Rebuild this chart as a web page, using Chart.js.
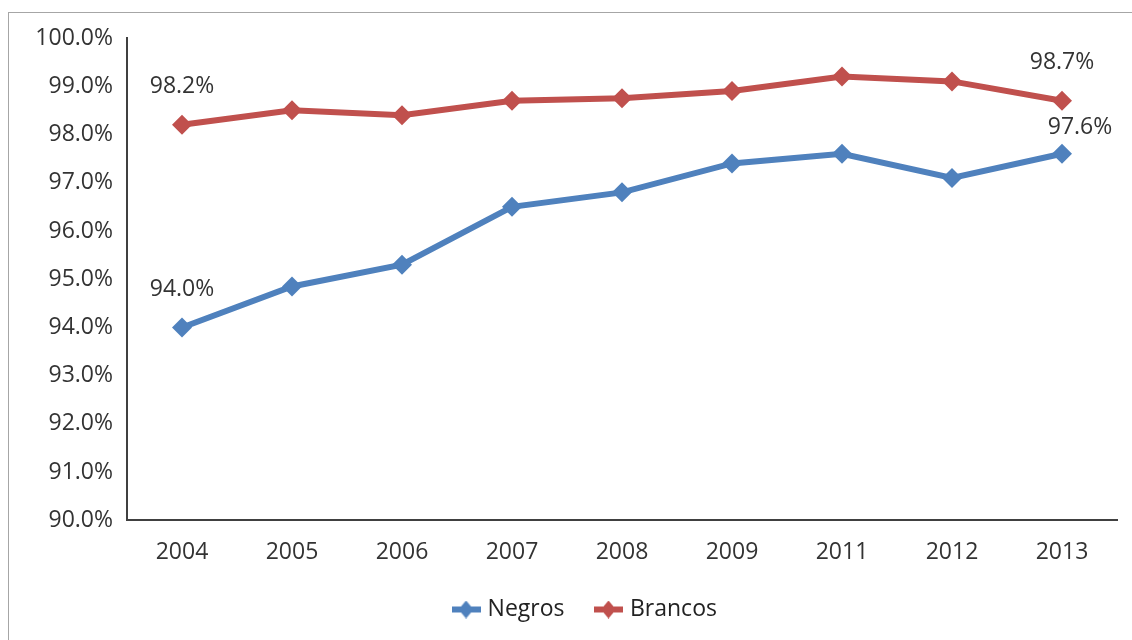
<!DOCTYPE html>
<html>
<head>
<meta charset="utf-8">
<script src="https://cdn.jsdelivr.net/npm/chart.js@4"></script>
<style>
  html, body { margin: 0; padding: 0; background: #fff; }
  #frame {
    position: absolute; left: 8px; top: 12px; width: 1200px; height: 700px;
    border-left: 1px solid #a6a6a6; border-top: 1px solid #a6a6a6;
  }
  #wrap { position: absolute; left: 0; top: 0; width: 1132px; height: 640px; }
</style>
</head>
<body>
<div id="frame"></div>
<div id="wrap"><canvas id="chart"></canvas></div>
<script>
// ── Data ─────────────────────────────────────────────────────
const YEARS   = ['2004', '2005', '2006', '2007', '2008', '2009', '2011', '2012', '2013'];
const NEGROS  = [94.0, 94.85, 95.3, 96.5, 96.8, 97.4, 97.6, 97.1, 97.6];
const BRANCOS = [98.2, 98.5, 98.4, 98.7, 98.75, 98.9, 99.2, 99.1, 98.7];

const BLUE = '#4f81bd';
const RED  = '#c0504d';
const FONT = "'Open Sans', sans-serif";

// Legend marker: short line with a diamond on it
function legendMarker(color) {
  const c = document.createElement('canvas');
  c.width = 29; c.height = 18;
  const g = c.getContext('2d');
  g.fillStyle = color;
  g.fillRect(0, 6, 29, 6);
  g.beginPath();
  g.moveTo(14.5, 0); g.lineTo(22, 9); g.lineTo(14.5, 18); g.lineTo(7, 9);
  g.closePath(); g.fill();
  return c;
}

// ── Value labels on selected points ─────────────────────────
const pointLabels = {
  id: 'pointLabels',
  afterDatasetsDraw(chart, args, opts) {
    const ctx = chart.ctx;
    ctx.save();
    ctx.font = `23px ${FONT}`;
    ctx.fillStyle = '#333';
    ctx.textAlign = 'center';
    ctx.textBaseline = 'middle';
    opts.items.forEach(it => {
      const pt = chart.getDatasetMeta(it.ds).data[it.idx];
      const v  = chart.data.datasets[it.ds].data[it.idx];
      ctx.fillText(v.toFixed(1) + '%', pt.x + (it.dx || 0), pt.y + it.dy);
    });
    ctx.restore();
  }
};

// Legend sits a bit right of the canvas centre, as in the original
const legendShift = {
  id: 'legendShift',
  afterLayout(chart) {
    chart.legend.left  += 28;
    chart.legend.right += 28;
  }
};

const ctx = document.getElementById('chart').getContext('2d');
new Chart(ctx, {
  type: 'line',
  data: {
    labels: YEARS,
    datasets: [
      {
        label: 'Negros', data: NEGROS,
        borderColor: BLUE, backgroundColor: BLUE,
        borderWidth: 6, pointStyle: 'rectRot', pointRadius: 10,
        pointHoverRadius: 10, pointBorderWidth: 0, tension: 0
      },
      {
        label: 'Brancos', data: BRANCOS,
        borderColor: RED, backgroundColor: RED,
        borderWidth: 6, pointStyle: 'rectRot', pointRadius: 10,
        pointHoverRadius: 10, pointBorderWidth: 0, tension: 0
      }
    ]
  },
  options: {
    responsive: true,
    maintainAspectRatio: false,
    animation: false,
    layout: { padding: { top: 38, right: 15, bottom: 9, left: 0 } },
    plugins: {
      legend: {
        position: 'bottom',
        labels: {
          usePointStyle: true,
          pointStyleWidth: 20,
          padding: 34,
          color: '#222',
          font: { family: FONT, size: 23 },
          generateLabels: chart => chart.data.datasets.map((ds, i) => ({
            text: ds.label,
            pointStyle: legendMarker(ds.borderColor),
            fillStyle: ds.borderColor,
            strokeStyle: ds.borderColor,
            lineWidth: 0,
            datasetIndex: i,
            fontColor: '#222'
          }))
        }
      },
      tooltip: { enabled: false },
      pointLabels: {
        items: [
          { ds: 1, idx: 0, dy: -38 },
          { ds: 1, idx: 8, dy: -38 },
          { ds: 0, idx: 0, dy: -38 },
          { ds: 0, idx: 8, dx: 18, dy: -26 }
        ]
      }
    },
    scales: {
      x: {
        offset: true,
        grid: { display: false, drawTicks: false },
        border: { display: true, color: '#404040', width: 2 },
        afterFit: s => { s.height -= 20; },
        ticks: { color: '#333', padding: 18, font: { family: FONT, size: 23 } }
      },
      y: {
        min: 90, max: 100,
        grid: { display: false, drawTicks: false },
        border: { display: true, color: '#404040', width: 2 },
        afterFit: s => { s.width = 127; },
        ticks: {
          stepSize: 1, color: '#333', padding: 14,
          font: { family: FONT, size: 23 },
          callback: v => v.toFixed(1) + '%'
        }
      }
    }
  },
  plugins: [pointLabels, legendShift]
});
</script>
</body>
</html>
